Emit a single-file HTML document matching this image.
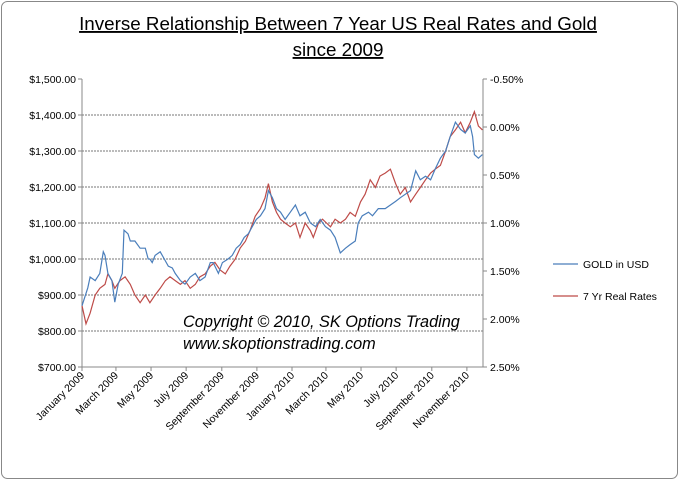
<!DOCTYPE html>
<html><head><meta charset="utf-8"><style>
body{margin:0;background:#fff;}
svg text{font-family:"Liberation Sans",sans-serif;}
</style></head><body>
<svg id="c" width="679" height="480" xmlns="http://www.w3.org/2000/svg">
<rect x="1.5" y="1.5" width="676" height="477" rx="6" fill="#fff" stroke="#888"/>
<text x="338" y="30" font-size="18.8" text-anchor="middle" text-decoration="underline">Inverse Relationship Between 7 Year US Real Rates and Gold</text>
<text x="338" y="56" font-size="18.8" text-anchor="middle" text-decoration="underline">since 2009</text>
<g id="grid"></g><g id="axes"></g><g id="series"></g>
<text x="183" y="327" font-size="16.3" font-style="italic">Copyright © 2010, SK Options Trading</text>
<text x="183" y="349" font-size="16.3" font-style="italic">www.skoptionstrading.com</text>
<line x1="553" y1="264" x2="578" y2="264" stroke="#4a7ebb" stroke-width="1.2"/>
<text x="583" y="268" font-size="10.5">GOLD in USD</text>
<line x1="553" y1="296" x2="578" y2="296" stroke="#be4b48" stroke-width="1.2"/>
<text x="583" y="300" font-size="10.5">7 Yr Real Rates</text>
</svg>
<script>
const leftTicks=[700,800,900,1000,1100,1200,1300,1400,1500];
const rightTicks=[-0.5,0,0.5,1,1.5,2,2.5];
const monthLabels=["January 2009","March 2009","May 2009","July 2009","September 2009","November 2009","January 2010","March 2010","May 2010","July 2010","September 2010","November 2010"];
const monthDays=[0,59,120,181,243,304,365,424,485,546,608,669];
const goldDays=[0,10,14,23,31,37,40,45,52,57,63,70,73,80,84,92,101,110,115,118,122,127,136,143,150,157,162,171,179,188,197,205,214,223,228,237,244,254,261,268,275,282,289,296,303,310,318,324,331,338,345,353,362,371,379,388,397,406,414,423,432,440,449,458,466,475,480,487,498,505,515,527,536,545,553,571,580,588,597,606,614,623,632,640,649,658,666,675,679,682,689,696];
const goldValues=[870,920,950,940,960,1020,1010,960,940,880,930,960,1080,1070,1050,1050,1030,1030,1000,1000,990,1010,1020,1000,980,975,960,940,930,950,960,940,950,990,990,960,990,1000,1010,1030,1040,1060,1070,1090,1110,1120,1140,1190,1170,1140,1130,1110,1130,1150,1120,1130,1100,1090,1110,1090,1080,1060,1017,1030,1040,1050,1100,1120,1130,1120,1140,1140,1150,1160,1170,1190,1245,1220,1230,1220,1250,1280,1300,1340,1380,1360,1350,1370,1340,1290,1280,1290];
const rateDays=[0,7,14,23,31,40,45,52,57,66,75,84,92,101,110,118,127,136,145,153,162,171,179,188,197,205,214,223,231,240,249,257,266,275,284,292,301,310,318,324,331,338,345,353,362,371,379,388,397,402,411,418,425,432,440,449,458,466,475,484,492,501,510,518,527,536,545,553,562,571,580,588,597,606,614,623,632,640,649,658,666,675,682,689,696];
const rateValues=[1.86,2.05,1.94,1.75,1.68,1.64,1.53,1.60,1.68,1.60,1.56,1.64,1.75,1.83,1.75,1.83,1.75,1.68,1.60,1.56,1.60,1.64,1.60,1.68,1.64,1.56,1.53,1.45,1.41,1.49,1.53,1.45,1.38,1.26,1.19,1.08,0.93,0.85,0.74,0.59,0.78,0.89,0.96,1.0,1.04,1.0,1.15,1.0,1.08,1.15,1.0,0.96,1.0,1.04,0.96,1.0,0.96,0.89,0.93,0.78,0.70,0.55,0.63,0.51,0.48,0.44,0.59,0.70,0.63,0.78,0.70,0.63,0.55,0.48,0.44,0.40,0.25,0.10,0.03,-0.05,0.06,-0.05,-0.16,-0.01,0.03];

const X0=82,X1=483,Y0=79,Y1=367,DMAX=697;
const xs=d=>X0+d*(X1-X0)/DMAX;
const yL=v=>Y1-(v-700)*(Y1-Y0)/800;
const yR=v=>Y0+(v+0.5)*(Y1-Y0)/3;
const NS="http://www.w3.org/2000/svg";
function mk(t,a,p){const e=document.createElementNS(NS,t);for(const k in a)e.setAttribute(k,a[k]);p.appendChild(e);return e;}
const grid=document.getElementById('grid'),axes=document.getElementById('axes'),ser=document.getElementById('series');
leftTicks.forEach(v=>{
  const y=yL(v);
  if(v>700&&v<1500){const g=mk('line',{x1:X0,x2:X1,y1:y,y2:y,stroke:'#777','stroke-dasharray':'2,1','stroke-width':1},grid);
  
  }
  const t=mk('text',{x:76,y:y+4,'font-size':10.5,'text-anchor':'end'},axes);t.textContent='$'+v.toLocaleString('en-US',{minimumFractionDigits:2});
  
  
  mk('line',{x1:X0-4,x2:X0,y1:y,y2:y,stroke:'#888'},axes);
});
rightTicks.forEach(v=>{
  const y=yR(v);
  const t=mk('text',{x:490,y:y+4,'font-size':10.5},axes);t.textContent=v.toFixed(2)+'%';
  
  
  mk('line',{x1:X1,x2:X1+4,y1:y,y2:y,stroke:'#888'},axes);
});
const bl=mk('line',{x1:X0,x2:X0,y1:Y0,y2:Y1,stroke:'#888'},axes);


const br=mk('line',{x1:X1,x2:X1,y1:Y0,y2:Y1,stroke:'#888'},axes);


const bb=mk('line',{x1:X0,x2:X1,y1:Y1,y2:Y1,stroke:'#888'},axes);


monthLabels.forEach((m,i)=>{
  const x=xs(monthDays[i]);
  mk('line',{x1:x,x2:x,y1:Y1,y2:Y1+4,stroke:'#888'},axes);
  const t=mk('text',{x:x+3,y:Y1+9,'font-size':10.5,'text-anchor':'end',transform:`rotate(-45 ${x+3} ${Y1+9})`},axes);
  t.textContent=m;
  
  
});
function line(days,vals,yf,col,name){
  const n=Math.min(days.length,vals.length);let d='';
  for(let i=0;i<n;i++)d+=(i?'L':'M')+xs(days[i]).toFixed(1)+','+yf(vals[i]).toFixed(1);
  const p=mk('path',{d:d,fill:'none',stroke:col,'stroke-width':1.2},ser);
  
  
}
line(rateDays,rateValues,yR,'#be4b48','rates-line');
line(goldDays,goldValues,yL,'#4a7ebb','gold-line');
</script>
</body></html>
